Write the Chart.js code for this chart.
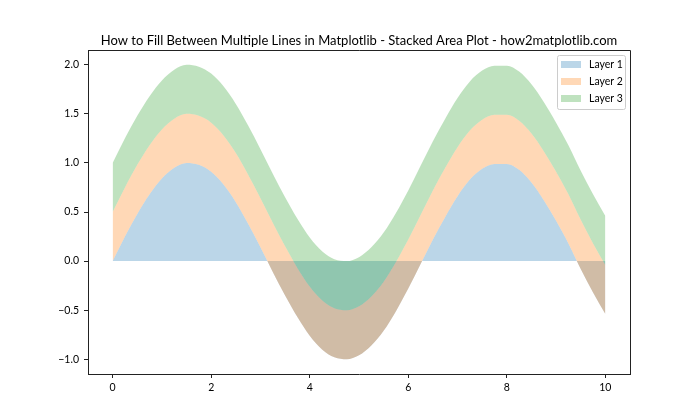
<!DOCTYPE html>
<html>
<head>
<meta charset="utf-8">
<script src="https://cdn.jsdelivr.net/npm/chart.js@4.4.1/dist/chart.umd.min.js"></script>
<style>
  html, body { margin: 0; padding: 0; background: #fff; }
</style>
</head>
<body>
<canvas id="myChart" width="700" height="420"></canvas>
<script>
// chart data
const titleText = 'How to Fill Between Multiple Lines in Matplotlib - Stacked Area Plot - how2matplotlib.com';
const layerNames = ['Layer 1', 'Layer 2', 'Layer 3'];
const layerColors = ['rgba(31, 119, 180, 0.3)', 'rgba(255, 127, 14, 0.3)', 'rgba(44, 160, 44, 0.3)'];

const xValues = [0, 0.25, 0.5, 0.75, 1, 1.25, 1.5, 1.75, 2, 2.25, 2.5, 2.75, 3, 3.25, 3.5, 3.75, 4, 4.25, 4.5, 4.75,
  5, 5.25, 5.5, 5.75, 6, 6.25, 6.5, 6.75, 7, 7.25, 7.5, 7.75, 8, 8.25, 8.5, 8.75, 9, 9.25, 9.5, 9.75, 10];
const layer1Top = [0, 0.25, 0.48, 0.68, 0.84, 0.95, 1.00, 0.98, 0.91, 0.78, 0.60, 0.38, 0.14, -0.11, -0.35, -0.57, -0.76, -0.90, -0.98, -1.00,
  -0.96, -0.86, -0.71, -0.51, -0.28, -0.03, 0.22, 0.45, 0.66, 0.83, 0.94, 0.99, 0.99, 0.93, 0.80, 0.62, 0.41, 0.18, -0.08, -0.32, -0.54];
const layer2Top = [0.50, 0.75, 0.98, 1.18, 1.34, 1.45, 1.50, 1.48, 1.41, 1.28, 1.10, 0.88, 0.64, 0.39, 0.15, -0.07, -0.26, -0.40, -0.48, -0.50,
  -0.46, -0.36, -0.21, -0.01, 0.22, 0.47, 0.72, 0.95, 1.16, 1.33, 1.44, 1.49, 1.49, 1.43, 1.30, 1.12, 0.91, 0.68, 0.42, 0.18, -0.04];
const layer3Top = [1.00, 1.25, 1.48, 1.68, 1.84, 1.95, 2.00, 1.98, 1.91, 1.78, 1.60, 1.38, 1.14, 0.89, 0.65, 0.43, 0.24, 0.10, 0.02, 0.00,
  0.04, 0.14, 0.29, 0.49, 0.72, 0.97, 1.22, 1.45, 1.66, 1.83, 1.94, 1.99, 1.99, 1.93, 1.80, 1.62, 1.41, 1.18, 0.92, 0.68, 0.46];

const xTicks = [0, 2, 4, 6, 8, 10];
const yTicks = [-1.0, -0.5, 0.0, 0.5, 1.0, 1.5, 2.0];

const fontFamily = 'Lato, "Open Sans", sans-serif';
const axisColor = '#222';

const toPoints = (ys) => xValues.map((x, i) => ({ x: x, y: ys[i] }));

// matplotlib draws layer 1 first, so give it the highest order (drawn first in chart.js)
const makeLayer = (i, ys, fill) => ({
  label: layerNames[i],
  data: toPoints(ys),
  backgroundColor: layerColors[i],
  borderColor: layerColors[i],
  borderWidth: 0,
  pointRadius: 0,
  cubicInterpolationMode: 'monotone',
  fill: fill,
  order: 3 - i
});

// top and right spines of the axes box
const frameBox = {
  id: 'frameBox',
  afterDraw(chart) {
    const { ctx, chartArea: { left, right, top, bottom } } = chart;
    ctx.save();
    ctx.strokeStyle = axisColor;
    ctx.lineWidth = 1;
    ctx.beginPath();
    ctx.moveTo(left, top + 0.5);
    ctx.lineTo(right + 0.5, top + 0.5);
    ctx.lineTo(right + 0.5, bottom);
    ctx.stroke();
    ctx.restore();
  }
};

// legend inside the axes, upper right, like matplotlib's
const innerLegend = {
  id: 'innerLegend',
  afterDraw(chart) {
    const { ctx, chartArea: { right, top } } = chart;
    const sets = chart.data.datasets;
    const boxW = 68, rowH = 17;
    const boxH = sets.length * rowH + 3;
    const bx = right - 5 - boxW, by = top + 5;
    ctx.save();
    ctx.fillStyle = 'rgba(255,255,255,0.8)';
    ctx.strokeStyle = '#cccccc';
    ctx.lineWidth = 1;
    ctx.beginPath();
    ctx.roundRect(bx + 0.5, by + 0.5, boxW, boxH, 2);
    ctx.fill();
    ctx.stroke();
    ctx.font = '10.5px ' + fontFamily;
    ctx.textBaseline = 'middle';
    ctx.textAlign = 'left';
    sets.forEach((ds, i) => {
      const cy = by + 9.5 + i * rowH;
      ctx.fillStyle = ds.backgroundColor;
      ctx.fillRect(bx + 4, cy - 3.5, 20, 7);
      ctx.fillStyle = '#000';
      ctx.fillText(ds.label, bx + 32, cy);
    });
    ctx.restore();
  }
};

// centre the title over the axes instead of the canvas
const titleOverAxes = {
  id: 'titleOverAxes',
  afterLayout(chart) {
    if (chart.titleBlock) {
      chart.titleBlock.left = chart.chartArea.left;
      chart.titleBlock.right = chart.chartArea.right;
    }
  }
};

const config = {
  type: 'line',
  data: {
    datasets: [
      makeLayer(0, layer1Top, 'origin'),
      makeLayer(1, layer2Top, '-1'),
      makeLayer(2, layer3Top, '-1')
    ]
  },
  options: {
    responsive: false,
    animation: false,
    layout: { padding: { top: 33, left: 0, right: 70, bottom: 0 } },
    plugins: {
      legend: { display: false },
      tooltip: { enabled: false },
      title: {
        display: true,
        text: titleText,
        color: '#000',
        font: { family: fontFamily, size: 13, weight: 'normal' },
        padding: { top: 0, bottom: 1.4 }
      }
    },
    scales: {
      x: {
        type: 'linear',
        min: -0.5,
        max: 10.5,
        afterBuildTicks: (axis) => { axis.ticks = xTicks.map(v => ({ value: v })); },
        afterFit: (axis) => { axis.height = 46; },
        ticks: { color: '#000', font: { family: fontFamily, size: 10.5 }, padding: 3, maxRotation: 0 },
        grid: { drawOnChartArea: false, tickLength: 4, color: axisColor },
        border: { color: axisColor, width: 1 }
      },
      y: {
        type: 'linear',
        min: -1.15,
        max: 2.15,
        afterBuildTicks: (axis) => { axis.ticks = yTicks.map(v => ({ value: v })); },
        afterFit: (axis) => { axis.width = 88; },
        ticks: {
          color: '#000',
          font: { family: fontFamily, size: 10.5 },
          padding: 5,
          callback: (v) => v.toFixed(1).replace('-', '\u2212')
        },
        grid: { drawOnChartArea: false, tickLength: 4, color: axisColor },
        border: { color: axisColor, width: 1 }
      }
    }
  },
  plugins: [frameBox, innerLegend, titleOverAxes]
};

const myChart = new Chart(document.getElementById('myChart'), config);
</script>
</body>
</html>
